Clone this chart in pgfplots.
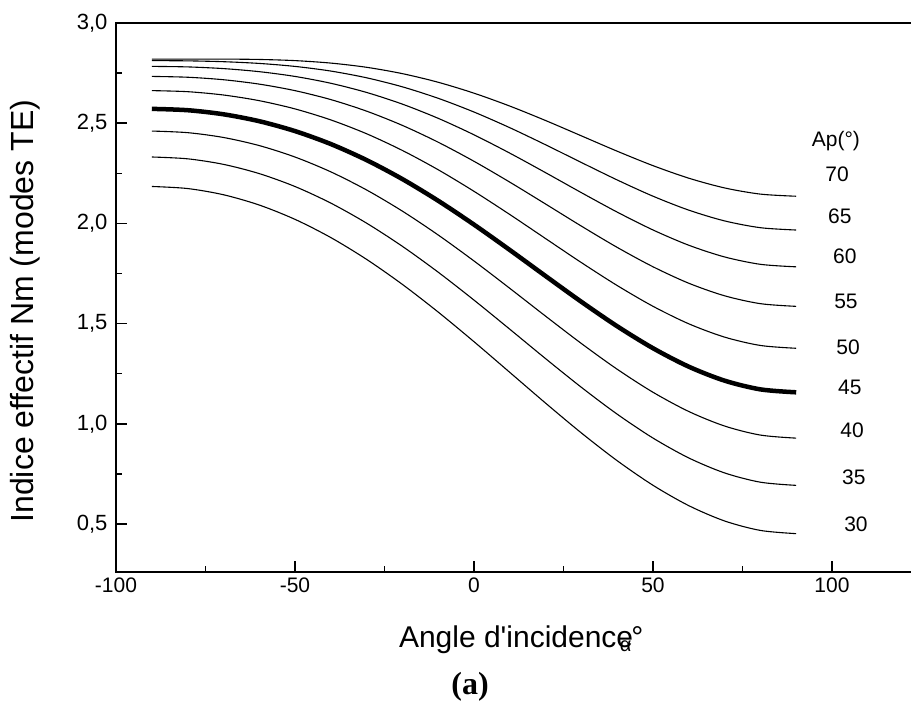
\documentclass[border=0pt]{standalone}
\usepackage{pgfplots}
\usepackage{pgfplotstable}
\pgfplotsset{compat=1.18}
\usepackage{fontspec}
\setmainfont{Liberation Sans}
\newfontfamily\serifbf{Liberation Serif}
\pgfplotstableread{
a    p30    p35    p40    p45    p50    p55    p60    p65    p70
-90  2.1844 2.3315 2.4609 2.5716 2.6626 2.7335 2.7835 2.8123 2.8197
-80  2.1741 2.3224 2.4529 2.5649 2.6573 2.7294 2.7809 2.8111 2.8199
-70  2.1432 2.2948 2.4289 2.5446 2.6408 2.7170 2.7725 2.8069 2.8199
-60  2.0919 2.2487 2.3885 2.5101 2.6125 2.6951 2.7572 2.7983 2.8181
-50  2.0204 2.1842 2.3313 2.4607 2.5714 2.6625 2.7334 2.7834 2.8123
-40  1.9296 2.1015 2.2574 2.3961 2.5165 2.6179 2.6993 2.7602 2.8000
-30  1.8207 2.0014 2.1670 2.3160 2.4474 2.5602 2.6535 2.7266 2.7790
-20  1.6958 1.8857 2.0613 2.2212 2.3641 2.4891 2.5952 2.6815 2.7473
-10  1.5577 1.7567 1.9423 2.1131 2.2678 2.4052 2.5244 2.6243 2.7043
0    1.4100 1.6175 1.8127 1.9941 2.1602 2.3100 2.4422 2.5558 2.6499
10   1.2569 1.4722 1.6762 1.8675 2.0445 2.2060 2.3507 2.4776 2.5855
20   1.1034 1.3254 1.5373 1.7375 1.9244 2.0968 2.2532 2.3924 2.5134
30   0.9546 1.1823 1.4009 1.6089 1.8046 1.9866 2.1535 2.3040 2.4369
40   0.8162 1.0484 1.2725 1.4870 1.6902 1.8805 2.0565 2.2169 2.3603
50   0.6936 0.9292 1.1577 1.3774 1.5866 1.7838 1.9674 2.1359 2.2883
60   0.5919 0.8299 1.0617 1.2853 1.4992 1.7016 1.8912 2.0663 2.2257
70   0.5156 0.7553 0.9892 1.2156 1.4328 1.6390 1.8328 2.0126 2.1771
80   0.4684 0.7090 0.9441 1.1721 1.3912 1.5997 1.7960 1.9787 2.1463
90   0.4523 0.6932 0.9288 1.1574 1.3771 1.5863 1.7835 1.9671 2.1357
}\data
\begin{document}
\begin{tikzpicture}
\useasboundingbox (-116pt,-129pt) rectangle (795pt,572pt);
\begin{axis}[
  at={(0pt,0pt)}, anchor=south west,
  scale only axis, width=805.5pt, height=549pt,
  xmin=-100, xmax=125, ymin=0.261, ymax=3.0,
  xtick={-100,-50,0,50,100}, xticklabels={-100,-50,0,50,100},
  ytick={0.5,1,1.5,2,2.5,3}, yticklabels={{0,5},{1,0},{1,5},{2,0},{2,5},{3,0}},
  minor xtick={-75,-25,25,75}, minor ytick={0.75,1.25,1.75,2.25,2.75},
  xtick pos=bottom, ytick pos=left,
  tick align=inside,
  major tick length=11pt, minor tick length=6pt,
  major tick style={line width=1.6pt, black},
  minor tick style={line width=1.4pt, black},
  axis line style={line width=2.4pt},
  xticklabel style={font=\fontsize{21}{24}\selectfont, yshift=-2pt},
  yticklabel style={font=\fontsize{22}{24}\selectfont, xshift=-5pt},
  every axis x label/.style={at={(axis description cs:0.503,-0.1384)}, anchor=base, font=\fontsize{30}{32}\selectfont},
  every axis y label/.style={at={(axis description cs:-0.113,0.475)}, rotate=90, anchor=center, font=\fontsize{32}{34}\selectfont},
  xlabel={Angle d\textquotesingle incidence\kern-0.45em\raisebox{-0.12em}{\fontsize{20}{20}\selectfont α}°},
  ylabel={Indice effectif Nm (modes TE)},
  clip mode=individual,
]
\addplot[black, line width=1.1pt, smooth] table[x=a,y=p30] {\data};
\addplot[black, line width=1.1pt, smooth] table[x=a,y=p35] {\data};
\addplot[black, line width=1.1pt, smooth] table[x=a,y=p40] {\data};
\addplot[black, line width=4.5pt, smooth] table[x=a,y=p45] {\data};
\addplot[black, line width=1.1pt, smooth] table[x=a,y=p50] {\data};
\addplot[black, line width=1.1pt, smooth] table[x=a,y=p55] {\data};
\addplot[black, line width=1.1pt, smooth] table[x=a,y=p60] {\data};
\addplot[black, line width=1.1pt, smooth] table[x=a,y=p65] {\data};
\addplot[black, line width=1.1pt, smooth] table[x=a,y=p70] {\data};
\begin{scope}[every node/.style={font=\fontsize{21}{24}\selectfont, anchor=center}]
\node at (axis cs:101.1,2.410) {Ap(°)};
\node at (axis cs:101.4,2.246) {70};
\node at (axis cs:102.2,2.036) {65};
\node at (axis cs:103.6,1.837) {60};
\node at (axis cs:103.9,1.612) {55};
\node at (axis cs:104.5,1.383) {50};
\node at (axis cs:105.0,1.183) {45};
\node at (axis cs:105.6,0.969) {40};
\node at (axis cs:106.1,0.734) {35};
\node at (axis cs:106.7,0.500) {30};
\end{scope}
\node[anchor=base, font=\serifbf\bfseries\fontsize{32}{34}\selectfont] at (axis description cs:0.4395,-0.224) {(a)};
\end{axis}
\end{tikzpicture}
\end{document}
